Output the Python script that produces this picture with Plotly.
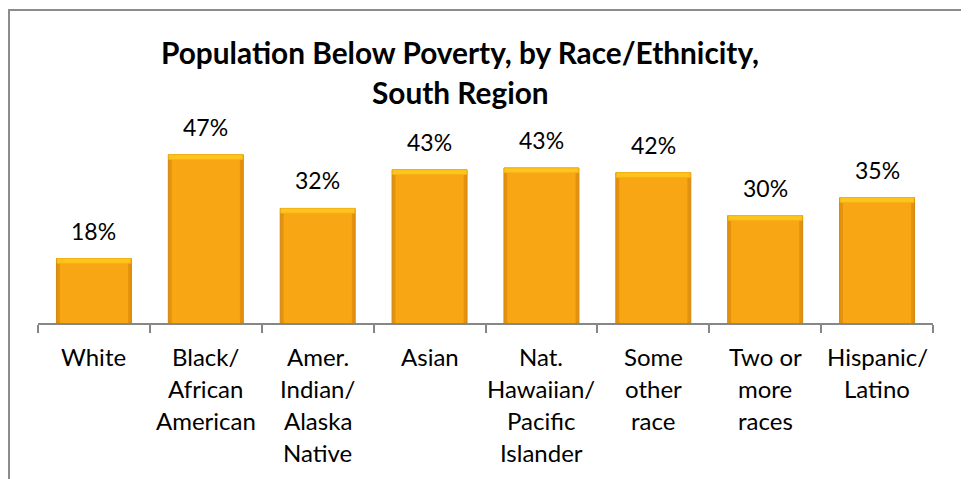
import plotly.graph_objects as go

categories = ["White", "Black/ African American", "Amer. Indian/ Alaska Native", "Asian",
              "Nat. Hawaiian/ Pacific Islander", "Some other race", "Two or more races", "Hispanic/ Latino"]
label_lines = [["White"], ["Black/", "African", "American"], ["Amer.", "Indian/", "Alaska", "Native"],
               ["Asian"], ["Nat.", "Hawaiian/", "Pacific", "Islander"], ["Some", "other", "race"],
               ["Two or", "more", "races"], ["Hispanic/", "Latino"]]
values = [0.18, 0.47, 0.32, 0.428, 0.433, 0.42, 0.30, 0.35]
title_lines = ["Population Below Poverty, by Race/Ethnicity,", "South Region"]

FONT = "Lato"
OFF = 8  # default page body margin
W, H = 969 - OFF, 479 - OFF
L, R_, T, B = 38 - OFF, 933 - OFF, 144 - OFF, 323 - OFF
PW, PH = R_ - L, B - T
bevel = 0.013

fig = go.Figure()
fig.add_trace(go.Bar(x=categories, y=values, width=0.67,
                     marker=dict(color="#E4910D", line=dict(color="#D0870B", width=1)),
                     hoverinfo="skip"))
fig.add_trace(go.Bar(x=categories, y=[v - bevel for v in values], width=0.61,
                     marker=dict(color="#F8A613", line=dict(width=0)),
                     hoverinfo="skip"))
fig.add_trace(go.Bar(x=categories, y=[bevel] * len(values), base=[v - bevel for v in values], width=0.66,
                     marker=dict(color="#FFC51C", line=dict(color="#F5B418", width=1)),
                     hoverinfo="skip"))

annotations = []
for c, v in zip(categories, values):
    annotations.append(dict(x=c, y=v, xref="x", yref="y", text=f"{v:.0%}", showarrow=False,
                            yanchor="bottom", yshift=12, font=dict(family=FONT, size=23, color="#000")))
for c, lines in zip(categories, label_lines):
    for i, ln in enumerate(lines):
        annotations.append(dict(x=c, y=0, xref="x", yref="y", text=ln, showarrow=False,
                                yanchor="middle", yshift=-33 - 32.3 * i,
                                font=dict(family=FONT, size=24, color="#000")))
for i, tl in enumerate(title_lines):
    annotations.append(dict(x=(460 - OFF - L) / PW, y=(B - (53 + 39 * i - OFF)) / PH, xref="paper", yref="paper",
                            text="<b>" + tl + "</b>", showarrow=False, xanchor="center", yanchor="middle",
                            font=dict(family=FONT, size=29.8, color="#000", weight=900)))

fig.update_layout(
    width=W, height=H,
    margin=dict(l=L, r=W - R_, t=T, b=H - B),
    paper_bgcolor="white", plot_bgcolor="white",
    barmode="overlay", showlegend=False,
    xaxis=dict(showticklabels=False, showline=True, linecolor="#878787", linewidth=1.5,
               ticks="outside", tickson="boundaries", ticklen=8, tickcolor="#878787", tickwidth=1.5,
               range=[-0.5, 7.5], showgrid=False, zeroline=False, fixedrange=True),
    yaxis=dict(range=[0, 0.5], visible=False, showgrid=False, zeroline=False, fixedrange=True),
    annotations=annotations,
    shapes=[dict(type="rect", xref="paper", yref="paper",
                 x0=(9 - OFF - L) / PW, x1=(963 - OFF - L) / PW,
                 y0=(B - (500 - OFF)) / PH, y1=(B - (10 - OFF)) / PH,
                 line=dict(color="#8C8C8C", width=2), fillcolor="rgba(0,0,0,0)", layer="below")],
)
fig.write_html("out.html")
